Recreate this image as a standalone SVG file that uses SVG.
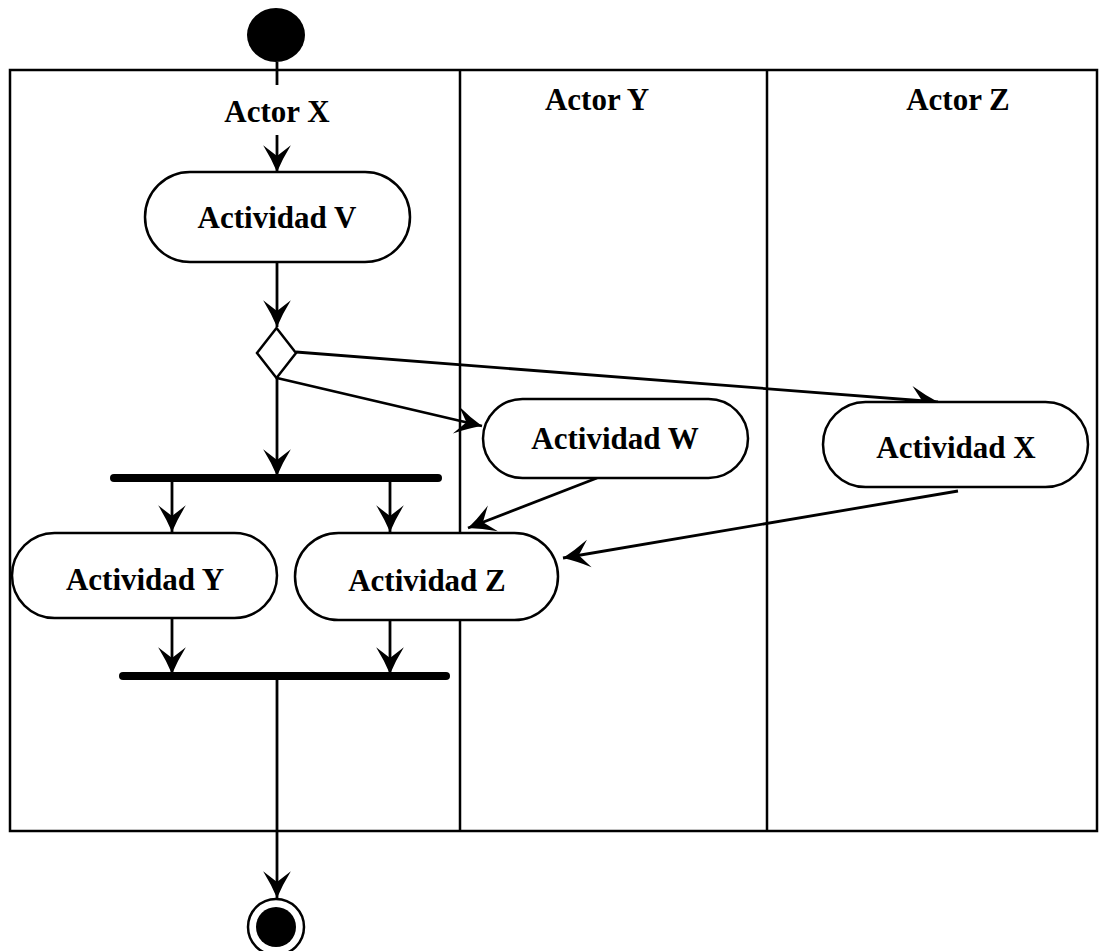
<svg xmlns="http://www.w3.org/2000/svg" width="1107" height="951" viewBox="0 0 1107 951">
  <style>
    .frame { fill: none; stroke: #000; stroke-width: 2.5; }
    .act { fill: #fff; stroke: #000; stroke-width: 2.5; }
    .lbl { font-family: "Liberation Serif", "Times New Roman", serif; font-weight: bold; font-size: 31px; text-anchor: middle; fill: #000; }
    .flow { fill: none; stroke: #000; stroke-width: 2.8; }
    .arrow { marker-end: url(#head); }
    .bar { stroke: #000; stroke-width: 8; stroke-linecap: round; }
  </style>
  <defs>
    <marker id="head" markerUnits="userSpaceOnUse" markerWidth="32" markerHeight="32" viewBox="-28 -15 30 30" refX="0" refY="0" orient="auto">
      <path d="M0,0 Q-12,-5 -25,-13 L-15,0 L-25,13 Q-12,5 0,0 Z" fill="#000"/>
    </marker>
  </defs>

  <!-- swimlane frame -->
  <g id="lanes">
    <rect class="frame" x="10" y="70" width="1087" height="761"/>
    <line class="frame" x1="460" y1="70" x2="460" y2="831"/>
    <line class="frame" x1="767" y1="70" x2="767" y2="831"/>
    <text class="lbl" x="277" y="122">Actor X</text>
    <text class="lbl" x="597" y="110">Actor Y</text>
    <text class="lbl" x="958" y="110">Actor Z</text>
  </g>

  <!-- connectors -->
  <g id="connectors">
    <line class="flow" x1="277" y1="62" x2="277" y2="85"/>
    <line class="flow arrow" x1="277" y1="135" x2="277" y2="172"/>
    <line class="flow arrow" x1="277" y1="262" x2="277" y2="327"/>
    <line class="flow arrow" x1="296" y1="352" x2="938" y2="402"/>
    <line class="flow arrow" x1="277" y1="378" x2="482" y2="426"/>
    <line class="flow arrow" x1="277" y1="378" x2="277" y2="476"/>
    <line class="flow arrow" x1="172" y1="478" x2="172" y2="532"/>
    <line class="flow arrow" x1="390" y1="478" x2="390" y2="532"/>
    <line class="flow arrow" x1="597" y1="478" x2="468" y2="528"/>
    <line class="flow arrow" x1="958" y1="491" x2="563" y2="558"/>
    <line class="flow arrow" x1="172" y1="618" x2="172" y2="674"/>
    <line class="flow arrow" x1="390" y1="620" x2="390" y2="674"/>
    <line class="flow arrow" x1="277" y1="676" x2="277" y2="898"/>
  </g>

  <g id="start">
    <ellipse cx="276" cy="35" rx="29" ry="27" fill="#000"/>
  </g>

  <g id="actividad-v">
    <rect class="act" x="145" y="172" width="265" height="90" rx="45" ry="45"/>
    <text class="lbl" x="277" y="228">Actividad V</text>
  </g>

  <g id="decision">
    <polygon class="act" points="276.5,328 296,353 276.5,378 257,353"/>
  </g>

  <g id="actividad-w">
    <rect class="act" x="483" y="399" width="265" height="79" rx="39.5" ry="39.5"/>
    <text class="lbl" x="615" y="449">Actividad W</text>
  </g>

  <g id="actividad-x">
    <rect class="act" x="823" y="402" width="265" height="85" rx="42.5" ry="42.5"/>
    <text class="lbl" x="956" y="458">Actividad X</text>
  </g>

  <g id="fork">
    <line class="bar" x1="114" y1="478" x2="438" y2="478"/>
  </g>

  <g id="actividad-y">
    <rect class="act" x="12" y="533" width="265" height="85" rx="42.5" ry="42.5"/>
    <text class="lbl" x="145" y="590">Actividad Y</text>
  </g>

  <g id="actividad-z">
    <rect class="act" x="295" y="533" width="263" height="87" rx="43.5" ry="43.5"/>
    <text class="lbl" x="427" y="591">Actividad Z</text>
  </g>

  <g id="join">
    <line class="bar" x1="123" y1="676" x2="446" y2="676"/>
  </g>

  <g id="end">
    <circle cx="276" cy="927" r="28" fill="#fff" stroke="#000" stroke-width="2.5"/>
    <circle cx="276" cy="927" r="20" fill="#000"/>
  </g>
</svg>
